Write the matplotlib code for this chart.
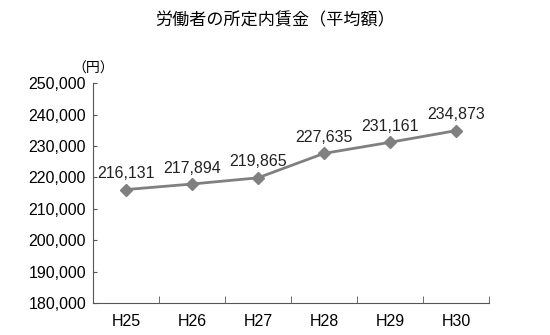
import matplotlib
matplotlib.use('Agg')
import matplotlib.pyplot as plt
from matplotlib.ticker import FuncFormatter, MultipleLocator

plt.rcParams['font.family'] = ['Liberation Sans', 'Noto Sans CJK JP']

# data
years = ['H25', 'H26', 'H27', 'H28', 'H29', 'H30']
wages = [216131, 217894, 219865, 227635, 231161, 234873]

fig = plt.figure(figsize=(5.5, 3.35), dpi=100)
ax = fig.add_axes([0.169, 0.095, 0.72, 0.657])

x = range(len(years))
ax.plot(x, wages, color='#808080', marker='D', markersize=6, linewidth=2)
for xi, v in zip(x, wages):
    ax.annotate(f'{v:,}', (xi, v), xytext=(0, 6), textcoords='offset points',
                ha='center', va='bottom', fontsize=11.5, color='#222222')

ax.set_xlim(-0.5, len(years) - 0.5)
ax.set_ylim(180000, 250000)
ax.yaxis.set_major_locator(MultipleLocator(10000))
ax.yaxis.set_major_formatter(FuncFormatter(lambda v, p: f'{int(v):,}'))
ax.set_xticks(list(x))
ax.set_xticklabels(years)
ax.set_xticks([i + 0.5 for i in range(len(years))], minor=True)
ax.tick_params(axis='x', which='major', length=0, pad=8, labelsize=11.5)
ax.tick_params(axis='x', which='minor', length=5, direction='in', color='#555555')
ax.tick_params(axis='y', length=3, direction='in', color='#555555', labelsize=11.5, pad=5)

for s in ['top', 'right']:
    ax.spines[s].set_visible(False)
for s in ['left', 'bottom']:
    ax.spines[s].set_color('#555555')

ax.text(0.0, 1.065, '（円）', transform=ax.transAxes, fontsize=10, ha='center', va='center')
fig.text(0.5, 0.94, '労働者の所定内賃金（平均額）', ha='center', va='center', fontsize=12.3)

fig.savefig('out.png', dpi=100)
